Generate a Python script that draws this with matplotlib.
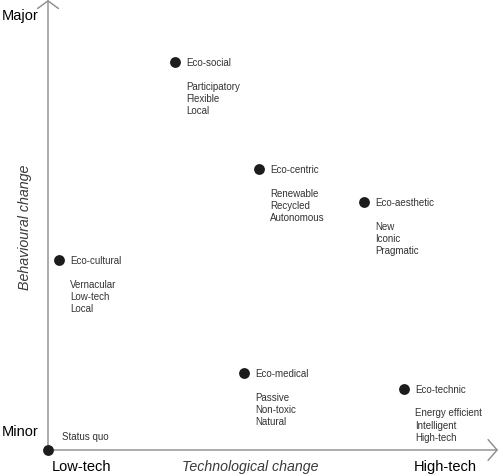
import matplotlib
matplotlib.use("Agg")
import matplotlib.pyplot as plt

plt.rcParams['font.family'] = ['Liberation Sans', 'DejaVu Sans']

# Data (technological change, behavioural change), arbitrary 0-10 scale
names = ["Eco-social", "Eco-centric", "Eco-aesthetic", "Eco-cultural", "Eco-medical", "Eco-technic"]
tech = [2.82, 4.69, 7.02, 0.24, 4.36, 7.91]
behav = [8.62, 6.24, 5.51, 4.22, 1.71, 1.36]
traits = [
    ["Participatory", "Flexible", "Local"],
    ["Renewable", "Recycled", "Autonomous"],
    ["New", "Iconic", "Pragmatic"],
    ["Vernacular", "Low-tech", "Local"],
    ["Passive", "Non-toxic", "Natural"],
    ["Energy efficient", "Intelligent", "High-tech"],
]
origin_label = "Status quo"
x_labels = ["Low-tech", "High-tech"]
y_labels = ["Minor", "Major"]
x_title = "Technological change"
y_title = "Behavioural change"

fig = plt.figure(figsize=(5.0, 4.77), dpi=100)
ax = fig.add_axes([0, 0, 1, 1])
ax.set_xlim(-48 / 45, 452 / 45)
ax.set_ylim(-26 / 45, 451 / 45)
ax.axis('off')

axis_col = '#8a8a8a'
# axes arrows
ax.annotate('', xy=(10.0, 0), xytext=(0, 0),
            arrowprops=dict(arrowstyle='->,head_length=0.65,head_width=0.75',
                            color=axis_col, lw=1.0, mutation_scale=10,
                            shrinkA=0, shrinkB=0))
ax.annotate('', xy=(0, 10.0), xytext=(0, 0),
            arrowprops=dict(arrowstyle='->,head_length=0.55,head_width=0.75',
                            color=axis_col, lw=1.0, mutation_scale=10,
                            shrinkA=0, shrinkB=0))

dot_col = '#1c1c1c'
txt_col = '#333333'
fs = 7.0
ax.scatter(tech, behav, s=7.8 ** 2, color=dot_col, zorder=5, linewidths=0)
ax.scatter([0], [0], s=7.8 ** 2, color=dot_col, zorder=5, linewidths=0)

for n, xv, yv, tr in zip(names, tech, behav, traits):
    ax.annotate(n, (xv, yv), xytext=(7.9, 0), textcoords='offset points',
                ha='left', va='center', fontsize=fs, color=txt_col)
    ax.annotate("\n".join(tr), (xv, yv), xytext=(7.9, -13.3), textcoords='offset points',
                ha='left', va='top', fontsize=fs, color=txt_col, linespacing=1.3)

ax.annotate(origin_label, (0, 0), xytext=(10, 10), textcoords='offset points',
            ha='left', va='center', fontsize=fs, color=txt_col)

big = 10.5
ax.text(0.09, -16 / 45, x_labels[0], ha='left', va='center', fontsize=big, color='black')
ax.text(9.53, -16 / 45, x_labels[1], ha='right', va='center', fontsize=big, color='black')
ax.text(-1.02, 19 / 45, y_labels[0], ha='left', va='center', fontsize=big, color='black')
ax.text(-1.02, 435 / 45, y_labels[1], ha='left', va='center', fontsize=big, color='black')
ax.text(4.49, -16 / 45, x_title, ha='center', va='center', fontsize=10.2,
        style='italic', color='#3a3a3a')
ax.text(-23 / 45, 224 / 45, y_title, ha='center', va='center', fontsize=10.3,
        style='italic', color='#3a3a3a', rotation=90)

fig.savefig('out.png', dpi=100)
